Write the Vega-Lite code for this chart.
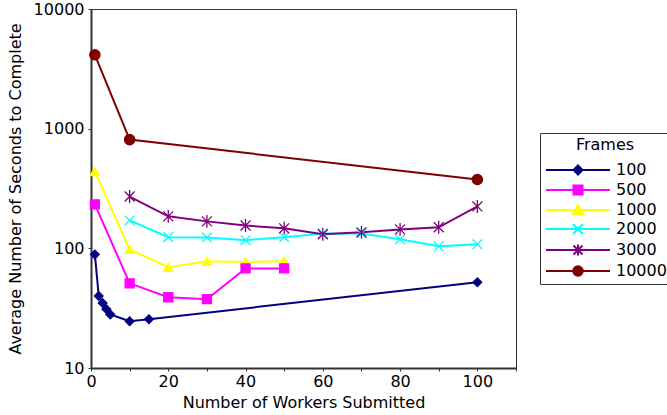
{
  "$schema": "https://vega.github.io/schema/vega-lite/v6.json",
  "width": 425,
  "height": 359,
  "autosize": "none",
  "padding": {"left": 91, "top": 9, "right": 151, "bottom": 47},
  "background": "white",
  "config": {
    "font": "DejaVu Sans",
    "view": {"stroke": "#333", "strokeWidth": 1},
    "axis": {
      "grid": false,
      "labelFontSize": 16,
      "titleFontSize": 16,
      "titleFontWeight": "normal",
      "labelColor": "black",
      "titleColor": "black",
      "domainColor": "#333",
      "domainWidth": 2,
      "tickColor": "#333",
      "tickSize": 3
    }
  },
  "data": {
    "values": [
      {"w": 1, "t": 89, "frame": "100"},
      {"w": 2, "t": 40, "frame": "100"},
      {"w": 3, "t": 35, "frame": "100"},
      {"w": 4, "t": 31, "frame": "100"},
      {"w": 5, "t": 28, "frame": "100"},
      {"w": 10, "t": 24.6, "frame": "100"},
      {"w": 15, "t": 25.6, "frame": "100"},
      {"w": 100, "t": 52, "frame": "100"},
      {"w": 1, "t": 438, "frame": "1000"},
      {"w": 10, "t": 98, "frame": "1000"},
      {"w": 20, "t": 69.5, "frame": "1000"},
      {"w": 30, "t": 78, "frame": "1000"},
      {"w": 40, "t": 77, "frame": "1000"},
      {"w": 50, "t": 78, "frame": "1000"},
      {"w": 1, "t": 233, "frame": "500"},
      {"w": 10, "t": 51, "frame": "500"},
      {"w": 20, "t": 39, "frame": "500"},
      {"w": 30, "t": 37.6, "frame": "500"},
      {"w": 40, "t": 68, "frame": "500"},
      {"w": 50, "t": 68, "frame": "500"},
      {"w": 10, "t": 171, "frame": "2000"},
      {"w": 20, "t": 124, "frame": "2000"},
      {"w": 30, "t": 123, "frame": "2000"},
      {"w": 40, "t": 117, "frame": "2000"},
      {"w": 50, "t": 124, "frame": "2000"},
      {"w": 60, "t": 133, "frame": "2000"},
      {"w": 70, "t": 133, "frame": "2000"},
      {"w": 80, "t": 119, "frame": "2000"},
      {"w": 90, "t": 104, "frame": "2000"},
      {"w": 100, "t": 108, "frame": "2000"},
      {"w": 10, "t": 271, "frame": "3000"},
      {"w": 20, "t": 185, "frame": "3000"},
      {"w": 30, "t": 168, "frame": "3000"},
      {"w": 40, "t": 155, "frame": "3000"},
      {"w": 50, "t": 147, "frame": "3000"},
      {"w": 60, "t": 131, "frame": "3000"},
      {"w": 70, "t": 136, "frame": "3000"},
      {"w": 80, "t": 144, "frame": "3000"},
      {"w": 90, "t": 150, "frame": "3000"},
      {"w": 100, "t": 224, "frame": "3000"},
      {"w": 1, "t": 4140, "frame": "10000"},
      {"w": 10, "t": 810, "frame": "10000"},
      {"w": 100, "t": 376, "frame": "10000"}
    ]
  },
  "encoding": {
    "x": {
      "field": "w",
      "type": "quantitative",
      "scale": {"domain": [0, 110], "nice": false, "zero": false},
      "axis": {
        "title": "Number of Workers Submitted",
        "values": [0, 10, 20, 30, 40, 50, 60, 70, 80, 90, 100, 110],
        "labelExpr": "datum.value % 20 == 0 ? datum.label : ''",
        "labelPadding": 2,
        "titlePadding": 5,
        "labelFlush": false
      }
    },
    "y": {
      "field": "t",
      "type": "quantitative",
      "scale": {"type": "log", "domain": [10, 10000], "nice": false},
      "axis": {
        "title": "Average Number of Seconds to Complete",
        "values": [10, 100, 1000, 10000],
        "format": "d",
        "labelPadding": 4,
        "titlePadding": 10,
        "labelFlush": false
      }
    }
  },
  "layer": [
    {
      "mark": {"type": "line", "strokeWidth": 2},
      "encoding": {
        "color": {
          "field": "frame",
          "type": "nominal",
          "scale": {
            "domain": ["100", "500", "1000", "2000", "3000", "10000"],
            "range": ["#000080", "#FF00FF", "#FFFF00", "#00FFFF", "#800080", "#800000"]
          },
          "legend": {
            "title": "Frames",
            "orient": "none",
            "legendX": 449,
            "legendY": 124,
            "strokeColor": "#333",
            "fillColor": "white",
            "padding": 4,
            "titleFontSize": 16,
            "titleFontWeight": "normal",
            "titleColor": "black",
            "titleAnchor": "middle",
            "titlePadding": 9,
            "labelFontSize": 16,
            "labelColor": "black",
            "symbolSize": 100,
            "symbolStrokeWidth": 2,
            "symbolOffset": 26,
            "labelOffset": 30,
            "rowPadding": 2,
            "encode": {
              "symbols": {
                "update": {
                  "shape": {"signal": "datum.value == '100' ? 'M-6.4,0H6.4M0,-0.9L0.9,0L0,0.9L-0.9,0Z' : datum.value == '500' ? 'M-6.4,0H6.4M-0.9,-0.9H0.9V0.9H-0.9Z' : datum.value == '1000' ? 'M-6.4,0H6.4M0,-1L1,0.8H-1Z' : datum.value == '2000' ? 'M-6.4,0H6.4M-1,-1L1,1M-1,1L1,-1' : datum.value == '3000' ? 'M-6.4,0H6.4M-0.9,-0.9L0.9,0.9M-0.9,0.9L0.9,-0.9M0,-1.1V1.1' : 'M-6.4,0H6.4M0.95,0A0.95,0.95,0,1,1,-0.95,0A0.95,0.95,0,1,1,0.95,0Z'"},
                  "fill": {"signal": "scale('color', datum.value)"},
                  "stroke": {"signal": "scale('color', datum.value)"},
                  "strokeWidth": {"value": 2}
                },
                "shape": {"value": {"expr": "datum.value == '100' ? 'M-6.4,0H6.4M0,-0.9L0.9,0L0,0.9L-0.9,0Z' : datum.value == '500' ? 'M-6.4,0H6.4M-0.9,-0.9H0.9V0.9H-0.9Z' : datum.value == '1000' ? 'M-6.4,0H6.4M0,-1L1,0.8H-1Z' : datum.value == '2000' ? 'M-6.4,0H6.4M-1,-1L1,1M-1,1L1,-1' : datum.value == '3000' ? 'M-6.4,0H6.4M-0.9,-0.9L0.9,0.9M-0.9,0.9L0.9,-0.9M0,-1.1V1.1' : 'M-6.4,0H6.4M0.95,0A0.95,0.95,0,1,1,-0.95,0A0.95,0.95,0,1,1,0.95,0Z'"}},
                "fill": {"value": {"expr": "scale('color', datum.value)"}},
                "stroke": {"value": {"expr": "scale('color', datum.value)"}},
                "strokeWidth": {"value": 2}
              }
            }
          }
        }
      }
    },
    {
      "mark": {"type": "point", "filled": false, "strokeWidth": 1.3, "opacity": 1},
      "encoding": {
        "fill": {
          "field": "frame",
          "type": "nominal",
          "scale": {
            "domain": ["10000", "3000", "2000", "1000", "500", "100"],
            "range": ["#800000", "#800080", "#00FFFF", "#FFFF00", "#FF00FF", "#000080"]
          },
          "legend": null
        },
        "stroke": {
          "field": "frame",
          "type": "nominal",
          "scale": {
            "domain": ["10000", "3000", "2000", "1000", "500", "100"],
            "range": ["#800000", "#800080", "#00FFFF", "#FFFF00", "#FF00FF", "#000080"]
          },
          "legend": null
        },
        "shape": {
          "field": "frame",
          "type": "nominal",
          "scale": {
            "domain": ["10000", "3000", "2000", "1000", "500", "100"],
            "range": ["circle", "M-1,-1L1,1M-1,1L1,-1M0,-1.3V1.3", "M-1,-1L1,1M-1,1L1,-1", "triangle-up", "square", "diamond"]
          },
          "legend": null
        },
        "size": {
          "field": "frame",
          "type": "ordinal",
          "scale": {
            "domain": ["10000", "3000", "2000", "1000", "500", "100"],
            "range": [105, 75, 140, 100, 85, 70]
          },
          "legend": null
        }
      }
    }
  ]
}
